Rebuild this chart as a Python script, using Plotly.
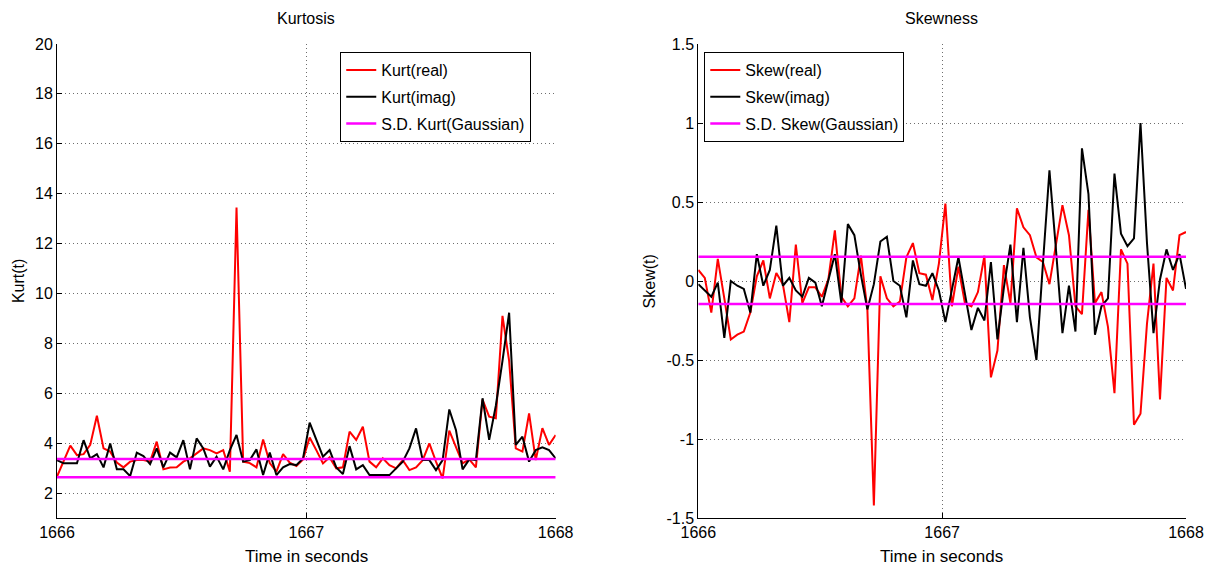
import plotly.graph_objects as go

# ---------------- data ----------------
t_start, t_end = 1666.0, 1668.0

kurt_real = [2.66, 3.26, 3.90, 3.52, 3.56, 3.93, 5.10, 3.79, 3.66, 3.22, 3.03, 3.26, 3.32, 3.32,
             3.26, 4.06, 2.95, 3.02, 3.03, 3.26, 3.39, 3.59, 3.79, 3.72, 3.59, 3.72, 2.86, 13.45,
             3.26, 3.20, 3.03, 4.15, 3.20, 2.86, 3.56, 3.22, 3.08, 3.35,
             4.23, 3.72, 3.19, 3.43, 2.99, 3.03, 4.46, 4.13, 4.66, 3.26, 3.03, 3.39, 3.12, 2.99,
             3.32, 2.92, 3.03, 3.32, 3.99, 3.26, 2.59, 4.50, 3.86, 3.19, 3.35, 3.03, 5.75, 5.06,
             5.00, 9.10, 7.30, 3.79, 3.66, 5.19, 3.32, 4.60, 3.93, 4.33]
kurt_imag = [3.32, 3.19, 3.19, 3.19, 4.12, 3.39, 3.56, 3.03, 3.99, 2.95, 2.95, 2.68, 3.62, 3.48,
             3.16, 3.79, 3.03, 3.62, 3.43, 4.12, 2.95, 4.19, 3.79, 3.06, 3.46, 2.95, 3.72, 4.33,
             3.26, 3.32, 3.75, 2.72, 3.62, 2.72, 3.03, 3.16, 3.12, 3.39,
             4.82, 4.12, 3.46, 3.72, 3.03, 2.76, 3.88, 2.95, 3.12, 2.72, 2.72, 2.72, 2.72, 2.99,
             3.26, 3.79, 4.59, 3.32, 3.32, 2.92, 3.32, 5.35, 4.53, 2.95, 3.35, 3.32, 5.80, 4.13,
             5.50, 7.30, 9.23, 3.93, 4.26, 3.26, 3.72, 3.83, 3.72, 3.39]
kurt_sd_levels = [3.36, 2.63]

skew_real = [0.07, 0.02, -0.20, 0.14, -0.11, -0.37, -0.34, -0.32, -0.20, 0.03, 0.13, -0.11, 0.05,
             -0.02, -0.26, 0.23, -0.14, -0.04, -0.04, -0.10, 0.01, 0.32, -0.10, -0.16, -0.11, 0.16,
             -0.18, -1.42, 0.03, -0.11, -0.16, -0.13, 0.15, 0.24, 0.05, 0.04, -0.12, 0.11,
             0.49, -0.16, 0.09, -0.14, -0.16, -0.07, 0.16, -0.61, -0.44, 0.10, -0.14, 0.46, 0.34,
             0.29, 0.15, 0.12, -0.02, 0.23, 0.48, 0.29, -0.16, -0.21, 0.45, -0.14, -0.07, -0.29,
             -0.71, 0.20, 0.11, -0.91, -0.84, -0.27, 0.11, -0.75, 0.02, -0.06, 0.29, 0.31]
skew_imag = [-0.02, -0.06, -0.10, -0.01, -0.36, 0.00, -0.03, -0.05, -0.20, 0.17, -0.03, 0.07, 0.35,
             -0.03, 0.02, -0.06, -0.10, 0.02, -0.01, -0.16, 0.01, 0.17, -0.14, 0.36, 0.29, 0.04,
             -0.18, -0.02, 0.25, 0.28, 0.00, -0.03, -0.23, 0.13, -0.02, -0.03, 0.05, -0.06,
             -0.26, -0.06, 0.15, -0.08, -0.31, -0.17, -0.25, 0.12, -0.37, -0.04, 0.23, -0.26, 0.21,
             -0.23, -0.50, 0.11, 0.70, 0.20, -0.33, -0.03, -0.32, 0.84, 0.55, -0.34, -0.16, -0.11,
             0.68, 0.30, 0.22, 0.27, 1.00, 0.24, -0.33, 0.01, 0.20, 0.07, 0.17, -0.05]
skew_sd_levels = [0.154, -0.146]

x_ticks = [1666, 1667, 1668]
kurt_ticks = [2, 4, 6, 8, 10, 12, 14, 16, 18, 20]
skew_ticks = [-1.5, -1, -0.5, 0, 0.5, 1, 1.5]
skew_ticktext = ["-1.5", "-1", "-0.5", "0", "0.5", "1", "1.5"]

n = len(kurt_real)
t = [t_start + k * (t_end - t_start) / (n - 1) for k in range(n)]


def sd_xy(levels):
    xs, ys = [], []
    for lv in levels:
        xs += [t_start, t_end, None]
        ys += [lv, lv, None]
    return xs, ys


FONT = "Liberation Sans, Arial, sans-serif"

fig = go.Figure()
kx, ky = sd_xy(kurt_sd_levels)
sx, sy = sd_xy(skew_sd_levels)

fig.add_trace(go.Scatter(x=t, y=kurt_real, mode="lines", name="Kurt(real)", legendgroup="a",
                         line=dict(color="#ff0000", width=2), xaxis="x", yaxis="y", legend="legend"))
fig.add_trace(go.Scatter(x=t, y=kurt_imag, mode="lines", name="Kurt(imag)", legendgroup="b",
                         line=dict(color="#000000", width=2), xaxis="x", yaxis="y", legend="legend"))
fig.add_trace(go.Scatter(x=kx, y=ky, mode="lines", name="S.D. Kurt(Gaussian)", legendgroup="c",
                         line=dict(color="#ff00ff", width=2.5), xaxis="x", yaxis="y", legend="legend"))

fig.add_trace(go.Scatter(x=t, y=skew_real, mode="lines", name="Skew(real)", legendgroup="d",
                         line=dict(color="#ff0000", width=2), xaxis="x2", yaxis="y2", legend="legend2"))
fig.add_trace(go.Scatter(x=t, y=skew_imag, mode="lines", name="Skew(imag)", legendgroup="e",
                         line=dict(color="#000000", width=2), xaxis="x2", yaxis="y2", legend="legend2"))
fig.add_trace(go.Scatter(x=sx, y=sy, mode="lines", name="S.D. Skew(Gaussian)", legendgroup="f",
                         line=dict(color="#ff00ff", width=2.5), xaxis="x2", yaxis="y2", legend="legend2"))

L, R, T, B = 57, 27, 44, 52
W, H = 1216, 570
pw = W - L - R
ph = H - T - B


def px_x(p):
    return (p - L) / pw


def px_y(p):
    return (H - B - p) / ph


grid = dict(showgrid=True, gridcolor="#6e6e6e", griddash="1px,3px", gridwidth=1)
axcommon = dict(ticks="inside", ticklen=5, tickwidth=1, tickcolor="black", showline=True,
                linecolor="black", linewidth=1, mirror=False, zeroline=False,
                tickfont=dict(family=FONT, size=16, color="black"), **grid)

legend_common = dict(bgcolor="white", bordercolor="black", borderwidth=1,
                     font=dict(family=FONT, size=16, color="black"),
                     xanchor="left", yanchor="top", tracegroupgap=3)

fig.update_layout(
    width=W, height=H,
    margin=dict(l=L, r=R, t=T, b=B),
    paper_bgcolor="white", plot_bgcolor="white",
    font=dict(family=FONT, size=16, color="black"),
    xaxis=dict(domain=[0, px_x(557)], range=[t_start, t_end], tickvals=x_ticks, anchor="y", **axcommon),
    yaxis=dict(range=[1, 20], tickvals=kurt_ticks, anchor="x", **axcommon),
    xaxis2=dict(domain=[px_x(700), 1], range=[t_start, t_end], tickvals=x_ticks, anchor="y2", **axcommon),
    yaxis2=dict(range=[-1.5, 1.5], tickvals=skew_ticks, ticktext=skew_ticktext, anchor="x2", **axcommon),
    legend=dict(x=px_x(341), y=px_y(52), **legend_common),
    legend2=dict(x=px_x(706), y=px_y(52), **legend_common),
    showlegend=True,
)

ann = [
    dict(text="Kurtosis", x=px_x(307), y=px_y(18)),
    dict(text="Skewness", x=px_x(944), y=px_y(18)),
    dict(text="Time in seconds", x=px_x(307), y=px_y(556)),
    dict(text="Time in seconds", x=px_x(944), y=px_y(556)),
    dict(text="Kurt(t)", x=px_x(18), y=px_y(281), textangle=-90),
    dict(text="Skew(t)", x=px_x(651), y=px_y(281), textangle=-90),
]
for a in ann:
    fig.add_annotation(xref="paper", yref="paper", showarrow=False, xanchor="center", yanchor="middle",
                       font=dict(family=FONT, size=17 if "Time" in a["text"] else 16, color="black"), **a)

fig.write_html("out.html")
